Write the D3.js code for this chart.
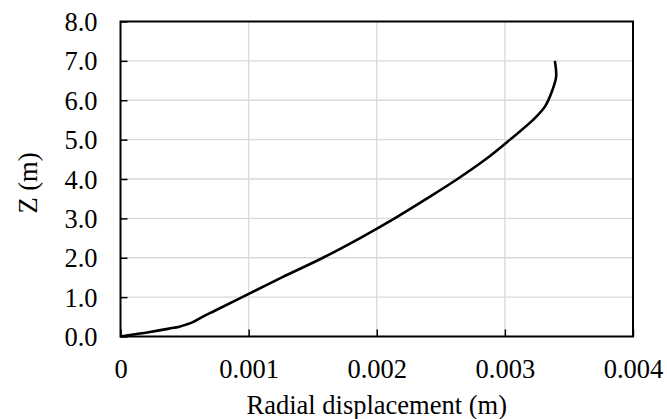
<!DOCTYPE html>
<html>
<head>
<meta charset="utf-8">
<script src="https://cdn.jsdelivr.net/npm/d3@7"></script>
<style>
  html, body { margin: 0; padding: 0; background: #fff; }
  svg { display: block; }
</style>
</head>
<body>
<svg id="chart" width="667" height="419"></svg>
<script>
// Data: height Z (m) and radial displacement (m)
const zValues = [0, 0.05, 0.11, 0.2, 0.25, 0.3, 0.36, 0.5, 0.66, 1.0, 1.5, 2.0, 2.5, 3.0, 3.5, 4.0, 4.5, 5.0, 5.5, 5.85, 6.25, 6.6, 7.0];
const dispValues = [0, 0.0001, 0.00022, 0.00038, 0.00046, 0.00051, 0.00056, 0.00064, 0.00074, 0.00095, 0.00126, 0.00158, 0.00187, 0.00214, 0.00239, 0.00263, 0.00285, 0.00304, 0.00322, 0.003315, 0.00337, 0.0034, 0.00339];
const xTicks = [0, 0.001, 0.002, 0.003, 0.004];
const xTickLabels = ["0", "0.001", "0.002", "0.003", "0.004"];
const yTicks = [0, 1, 2, 3, 4, 5, 6, 7, 8];
const yTickLabels = ["0.0", "1.0", "2.0", "3.0", "4.0", "5.0", "6.0", "7.0", "8.0"];
const xTitle = "Radial displacement (m)";
const yTitle = "Z (m)";

const FONT = "'Liberation Serif', 'Times New Roman', Times, serif";
const FS = "26.5px";
const svg = d3.select("#chart");
const L = 120.5, R = 633, T = 21.5, B = 336.5;

const x = d3.scaleLinear().domain([0, 0.004]).range([L, R]);
const y = d3.scaleLinear().domain([0, 8]).range([B, T]);

// gridlines
const g = svg.append("g");
g.selectAll("line.vg").data(xTicks.slice(1, -1)).enter().append("line")
  .attr("x1", d => x(d)).attr("x2", d => x(d)).attr("y1", T).attr("y2", B)
  .attr("stroke", "#d9d9d9").attr("stroke-width", 1.3);
g.selectAll("line.hg").data(yTicks.slice(1, -1)).enter().append("line")
  .attr("x1", L).attr("x2", R).attr("y1", d => y(d)).attr("y2", d => y(d))
  .attr("stroke", "#d9d9d9").attr("stroke-width", 1.3);

// axes with inward ticks
const xAxis = d3.axisBottom(x).tickValues(xTicks).tickSizeInner(-7).tickSizeOuter(0)
  .tickFormat((d, i) => xTickLabels[i]).tickPadding(0);
const xg = svg.append("g").attr("transform", `translate(0,${B})`).call(xAxis);
xg.select(".domain").remove();
xg.selectAll(".tick line").attr("stroke", "#000").attr("stroke-width", 1.5);
xg.selectAll(".tick text").attr("y", 41).attr("dy", 0)
  .style("font-size", FS).style("font-family", FONT).style("fill", "#000");

const yAxis = d3.axisLeft(y).tickValues(yTicks).tickSizeInner(-7).tickSizeOuter(0)
  .tickFormat((d, i) => yTickLabels[i]);
const yg = svg.append("g").attr("transform", `translate(${L},0)`).call(yAxis);
yg.select(".domain").remove();
yg.selectAll(".tick line").attr("stroke", "#000").attr("stroke-width", 1.5);
yg.selectAll(".tick text").attr("x", -23).attr("dy", "0.34em")
  .style("font-size", FS).style("font-family", FONT).style("fill", "#000");

// frame
svg.append("rect").attr("x", L).attr("y", T).attr("width", R - L).attr("height", B - T)
  .attr("fill", "none").attr("stroke", "#000").attr("stroke-width", 2);

// curve
const pts = zValues.map((z, i) => [dispValues[i], z]);
const line = d3.line().x(d => x(d[0])).y(d => y(d[1])).curve(d3.curveCatmullRom.alpha(0.5));
svg.append("path").datum(pts).attr("d", line)
  .attr("fill", "none").attr("stroke", "#000").attr("stroke-width", 2.6)
  .attr("stroke-linejoin", "round");

// titles
svg.append("text").attr("x", (L + R) / 2).attr("y", 414).attr("text-anchor", "middle")
  .style("font-size", FS).style("font-family", FONT).text(xTitle);
svg.append("text").attr("transform", `translate(37,183) rotate(-90)`)
  .attr("text-anchor", "middle")
  .style("font-size", FS).style("font-family", FONT).text(yTitle);
</script>
</body>
</html>
